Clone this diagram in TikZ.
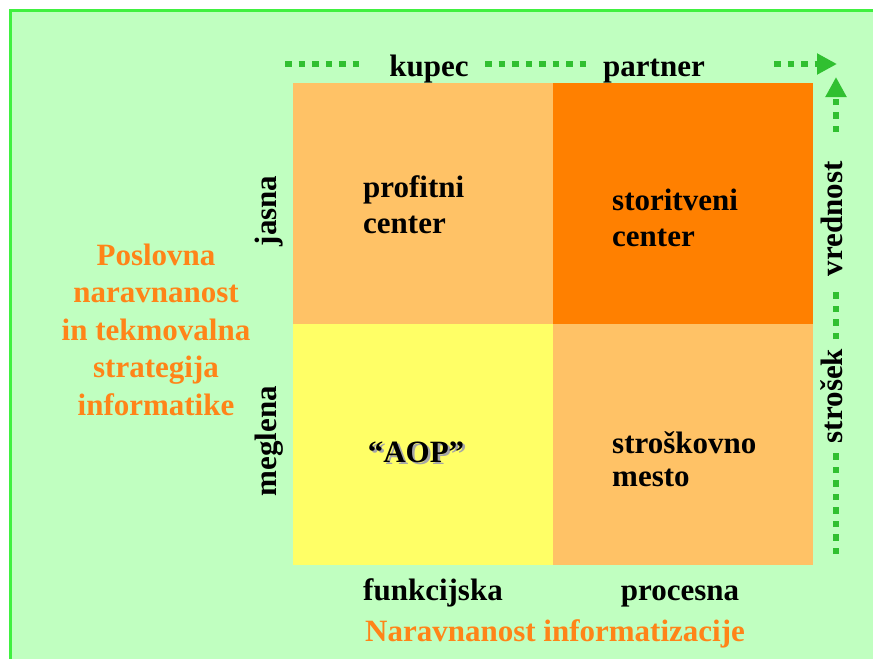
\documentclass[tikz,border=0pt]{standalone}
\usepackage{fontspec}
\setmainfont{Liberation Serif}
\usetikzlibrary{arrows.meta}
\definecolor{panelbg}{HTML}{C0FFC0}
\definecolor{panelrim}{HTML}{40F040}
\definecolor{dotgreen}{HTML}{30C030}
\definecolor{lightorange}{HTML}{FFC266}
\definecolor{deeporange}{HTML}{FF8000}
\definecolor{paleyellow}{HTML}{FFFF66}
\definecolor{titleorange}{HTML}{FF8418}
% text with a soft grey drop shadow
\newcommand{\shadowtext}[1]{\rlap{\kern2.5pt\raisebox{-2.5pt}{\textcolor{black!35}{#1}}}#1}
\tikzset{
  quad/.style={draw=none, minimum width=260pt, minimum height=241pt, inner sep=0pt, outer sep=0pt, anchor=north west},
  lbl/.style={font=\fontsize{31}{36}\selectfont\bfseries, inner sep=0pt, text=black},
  cell/.style={lbl, align=left, anchor=base west},
  vlbl/.style={lbl, rotate=90, anchor=base},
  title/.style={font=\fontsize{31}{37.5}\selectfont\bfseries, text=titleorange, inner sep=0pt},
  dots/.style={draw=dotgreen, line width=6pt, dash pattern=on 6.5pt off 7pt},
  tip/.style={-{Triangle[length=20pt,width=20pt]}}
}
\begin{document}
\begin{tikzpicture}[x=1pt,y=-1pt]
\useasboundingbox (0,0) rectangle (873,659);
% panel background with rim on the top and left edges
\fill[white] (0,0) rectangle (873,659);
\fill[panelbg] (9,9) rectangle (873,659);
\draw[panelrim, line width=3pt] (10.5,659) -- (10.5,10.5) -- (873,10.5);

% four quadrants
\node[quad, fill=lightorange] (q11) at (293,83) {};
\node[quad, fill=deeporange] (q12) at (553,83) {};
\node[quad, fill=paleyellow] (q21) at (293,324) {};
\node[quad, fill=lightorange] (q22) at (553,324) {};

% quadrant texts (multi-line nodes are placed by the baseline of their last line)
\node[cell] (t11) at (363,233) {profitni\\center};
\node[cell] (t12) at (612,246) {storitveni\\center};
\node[lbl, anchor=base] (t21) at (416,462) {\shadowtext{“AOP”}};
\node[cell, font=\fontsize{31}{33}\selectfont\bfseries] (t22) at (612,486) {stroškovno\\mesto};

% top axis labels and the dotted arrow through them
\node[lbl, anchor=base] (kupec) at (429,76) {kupec};
\node[lbl, anchor=base] (partner) at (654,76) {partner};
\coordinate (h0) at (285,64);
\coordinate (h1) at (360,64);
\coordinate (h2) at (485,64);
\coordinate (h3) at (588,64);
\coordinate (h4) at (774,64);
\coordinate (h5) at (837,64);
\draw[dots] (h0) -- (h1);
\draw[dots] (h2) -- (h3);
\draw[dots, tip] (h4) -- (h5);

% right axis labels and the dotted arrow through them
\node[vlbl] (vrednost) at (842,219) {vrednost};
\node[vlbl] (strosek) at (842,396) {strošek};
\coordinate (v0) at (836,554);
\coordinate (v1) at (836,453);
\coordinate (v2) at (836,339);
\coordinate (v3) at (836,292);
\coordinate (v4) at (836,132);
\coordinate (v5) at (836,77);
\draw[dots] (v0) -- (v1);
\draw[dots] (v2) -- (v3);
\draw[dots, tip] (v4) -- (v5);

% left axis labels
\node[vlbl] (jasna) at (276,211) {jasna};
\node[vlbl] (meglena) at (276,441) {meglena};

% bottom axis labels
\node[lbl, anchor=base] (funk) at (433,600) {funkcijska};
\node[lbl, anchor=base] (proc) at (680,600) {procesna};
\node[title, anchor=base] (xtitle) at (555,641) {Naravnanost informatizacije};

% left title
\node[title, align=center, anchor=base] (ytitle) at (156,415) {Poslovna\\naravnanost\\in tekmovalna\\strategija\\informatike};
\end{tikzpicture}
\end{document}
